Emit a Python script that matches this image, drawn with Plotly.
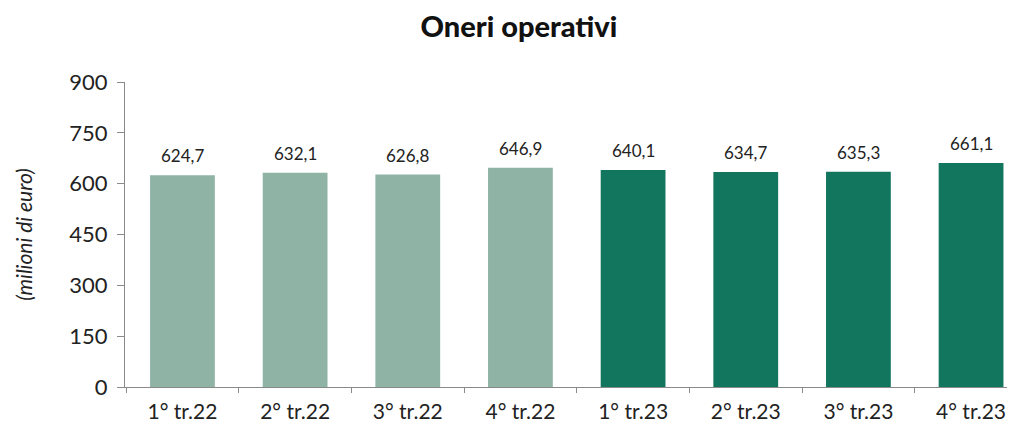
import plotly.graph_objects as go

categories = ["1° tr.22", "2° tr.22", "3° tr.22", "4° tr.22",
              "1° tr.23", "2° tr.23", "3° tr.23", "4° tr.23"]
values = [624.7, 632.1, 626.8, 646.9, 640.1, 634.7, 635.3, 661.1]
years = ["2022", "2022", "2022", "2022", "2023", "2023", "2023", "2023"]
year_colors = {"2022": "#8fb4a6", "2023": "#12765f"}
y_ticks = [0, 150, 300, 450, 600, 750, 900]

FONT = "Lato"

fig = go.Figure()
fig.add_trace(go.Bar(
    x=categories, y=values,
    marker=dict(color=[year_colors[y] for y in years], line=dict(width=0)),
    hoverinfo="skip",
))

for c, v in zip(categories, values):
    fig.add_annotation(
        x=c, y=v, text=f"{v:.1f}".replace(".", ","),
        showarrow=False, yanchor="bottom", yshift=7,
        font=dict(family=FONT, size=17, color="#222222"),
    )

fig.update_layout(
    width=1007, height=422,
    margin=dict(l=117, r=0, t=74, b=43, autoexpand=False),
    paper_bgcolor="white", plot_bgcolor="white",
    bargap=0.425,
    showlegend=False,
    title=dict(text="Oneri operativi", x=0.5074, xref="container",
               y=0.955, yref="container", xanchor="center", yanchor="middle",
               font=dict(family=FONT, size=29, weight=900, color="#111111")),
    xaxis=dict(
        range=[-0.51, 7.39], automargin=False,
        showline=True, linecolor="#8a8a8a", linewidth=1,
        ticks="outside", tickson="boundaries", ticklen=5, tickcolor="#8a8a8a",
        ticklabelstandoff=6,
        tickfont=dict(family=FONT, size=21, color="#222222"),
        showgrid=False,
    ),
    yaxis=dict(
        range=[0, 900], tickvals=y_ticks, automargin=False,
        showline=True, linecolor="#8a8a8a", linewidth=1,
        ticks="outside", ticklen=7, tickcolor="#8a8a8a",
        ticklabelstandoff=5,
        tickfont=dict(family=FONT, size=22, color="#222222"),
        showgrid=False, zeroline=False,
        title=dict(text="<i>(milioni di euro)</i>", standoff=30,
                   font=dict(family=FONT, size=21, color="#222222")),
    ),
)

fig.write_html("out.html")
